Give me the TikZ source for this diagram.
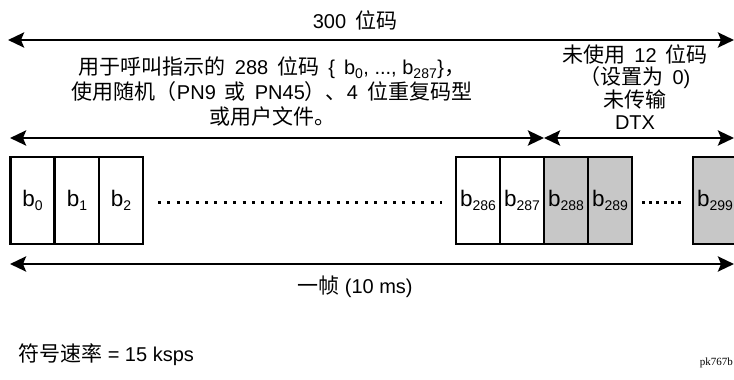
\documentclass[tikz,border=0pt]{standalone}
\usepackage{fontspec}
\setmainfont{Liberation Sans}
\newfontfamily\cjk{Noto Sans CJK SC}[Scale=1.05]
\newfontfamily\serifont{Liberation Serif}
\usetikzlibrary{arrows.meta}
\newcommand\zh[1]{{\cjk #1}}
\newcommand\gap{\hspace{9pt}}
\newcommand\bsub[1]{b\raisebox{-3.5pt}{\fontsize{14}{14}\selectfont #1}}
\begin{document}
\begin{tikzpicture}[x=1pt,y=-1pt,
  lbl/.style={font=\fontsize{20}{25}\selectfont, inner sep=0pt, align=center},
  bitbox/.style={draw, line width=2.6pt, minimum width=44pt, minimum height=87pt,
     inner sep=0pt, outer sep=0pt, font=\fontsize{22.5}{24}\selectfont},
  used/.style={bitbox, fill=white},
  unused/.style={bitbox, fill=black!22},
  dimarrow/.style={line width=2.8pt, {Stealth[length=16pt,width=15pt,inset=3pt]}-{Stealth[length=16pt,width=15pt,inset=3pt]}},
  dotline/.style={line width=3pt, dash pattern=on 3pt off 6.4pt},
  dotshort/.style={line width=3pt, dash pattern=on 3pt off 4.2pt}]
\useasboundingbox (0,0) rectangle (734,380);
% top arrow
\node[lbl] (t300) at (355,20) {300\gap\zh{位码}};
\coordinate (a1) at (8,40);
\coordinate (a2) at (734,40);
\draw[dimarrow] (a1) -- (a2);
% texts
\node[lbl] (para) at (272,92) {\zh{用于呼叫指示的}\gap 288\gap\zh{位码}\gap\{\gap b\textsubscript{0}, ..., b\textsubscript{287}\}\zh{，}\\
\zh{使用随机（}PN9\gap\zh{或}\gap PN45\zh{）、}4\gap\zh{位重复码型}\\
\zh{或用户文件。}};
\node[lbl, font=\fontsize{20}{22.5}\selectfont] (unusedtxt) at (635,87) {\zh{未使用}\gap 12\gap\zh{位码}\\
\zh{（设置为}\gap 0)\\
\zh{未传输}\\
DTX};
% second row arrows
\coordinate (b1) at (10,138);
\coordinate (b2) at (544,138);
\coordinate (b3) at (544,138);
\coordinate (b4) at (734,138);
\draw[dimarrow] (b1) -- (b2);
\draw[dimarrow] (b3) -- (b4);
% boxes
\node[used] (x0) at (32.5,200.5) {\bsub{0}};
\node[used] (x1) at (77,200.5) {\bsub{1}};
\node[used] (x2) at (121,200.5) {\bsub{2}};
\node[used] (x286) at (478,200.5) {\bsub{286}};
\node[used] (x287) at (522,200.5) {\bsub{287}};
\node[unused] (x288) at (566,200.5) {\bsub{288}};
\node[unused] (x289) at (610,200.5) {\bsub{289}};
\node[unused] (x299) at (715,200.5) {\bsub{299}};
\draw[dotline] ([xshift=15pt,yshift=-2pt]x2.east) -- ([xshift=-14pt,yshift=-2pt]x286.west);
\draw[dotshort] ([xshift=10pt,yshift=-2pt]x289.east) -- ([xshift=-10pt,yshift=-2pt]x299.west);
% frame arrow
\coordinate (c1) at (10,264);
\coordinate (c2) at (734,264);
\draw[dimarrow] (c1) -- (c2);
\node[lbl] (frame) at (355,287) {\zh{一帧} (10 ms)};
% bottom
\node[lbl, anchor=west] (rate) at (18,355) {\zh{符号速率} = 15 ksps};
\node[inner sep=0pt, anchor=base east, font=\serifont\fontsize{11}{13}\selectfont] (pk) at (733,365) {pk767b};
\end{tikzpicture}
\end{document}
